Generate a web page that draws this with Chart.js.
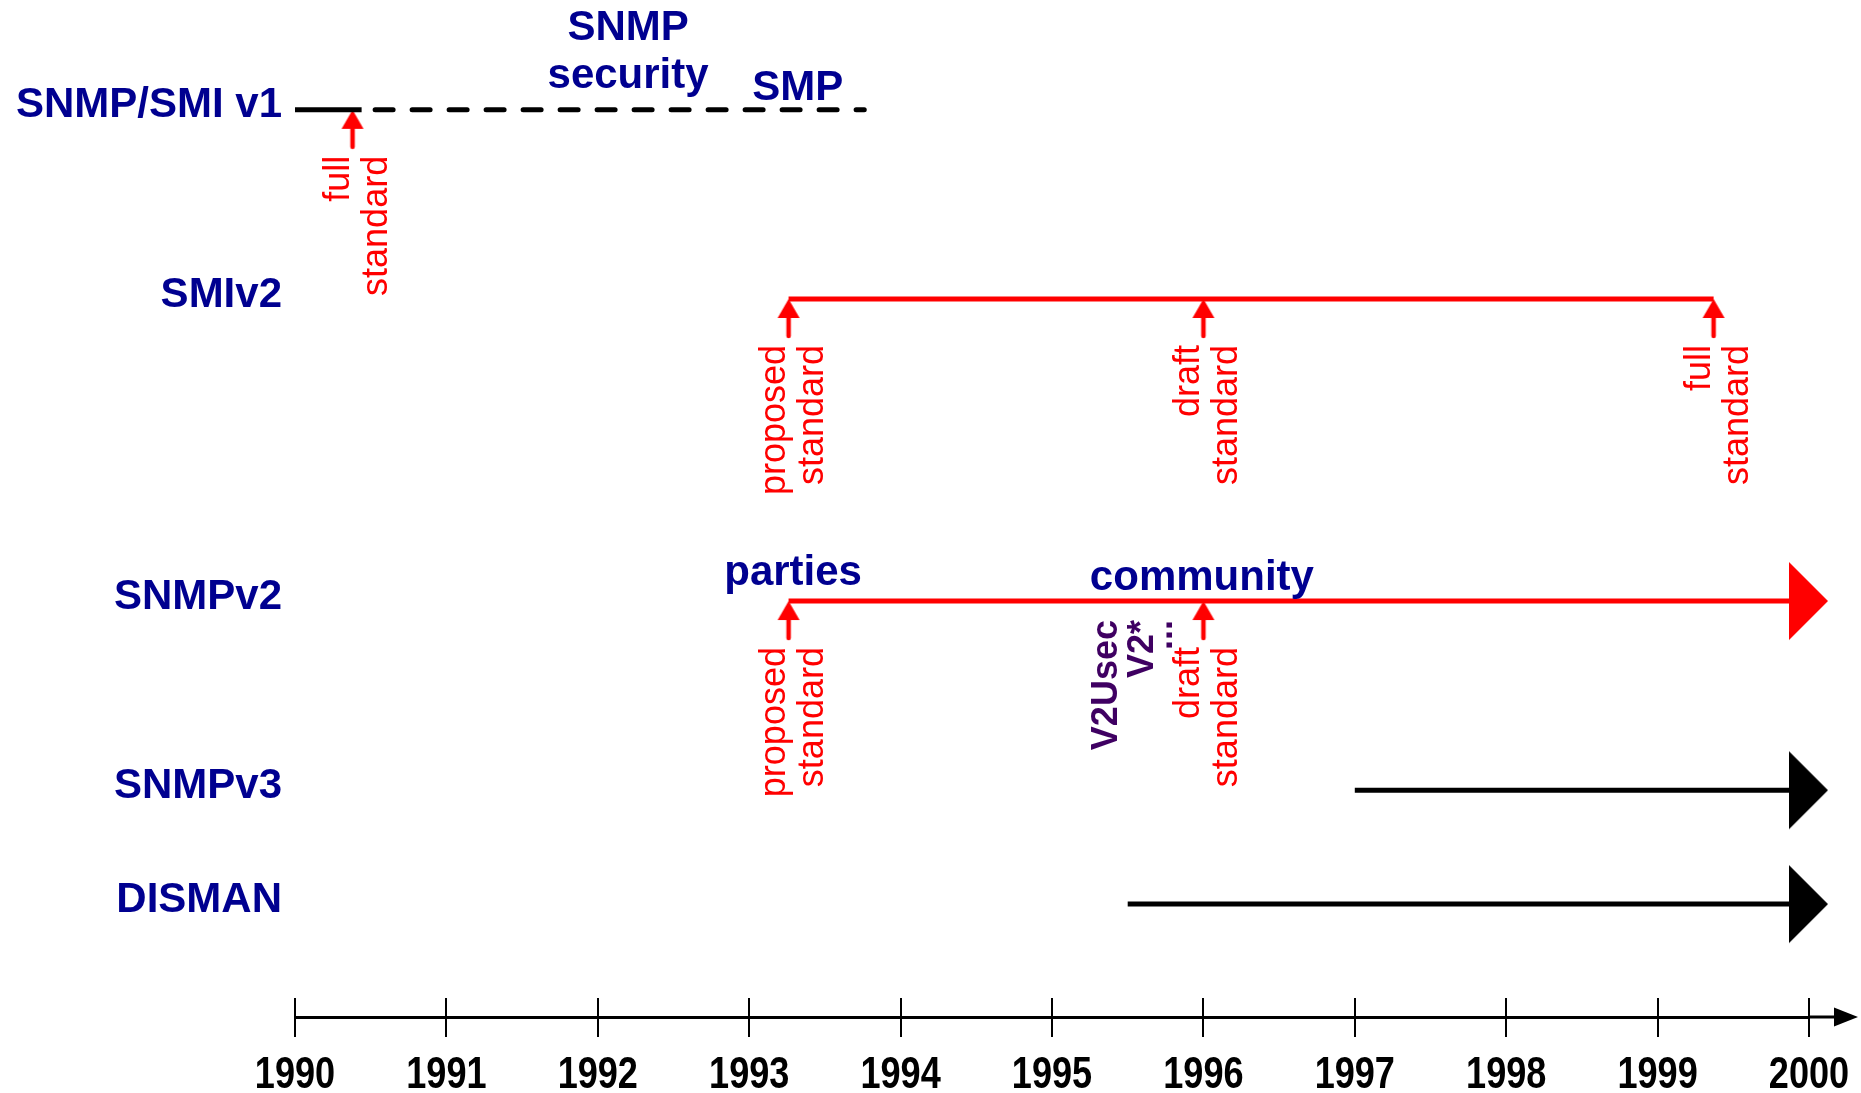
<!DOCTYPE html>
<html>
<head>
<meta charset="utf-8">
<script src="https://cdn.jsdelivr.net/npm/chart.js@4.4.1/dist/chart.umd.min.js"></script>
<style>
  html, body { margin: 0; padding: 0; background: #fff; }
</style>
</head>
<body>
<canvas id="timeline" width="1861" height="1093"></canvas>
<script>
// x axis tick labels
const years = [1990, 1991, 1992, 1993, 1994, 1995, 1996, 1997, 1998, 1999, 2000];

// one lane per track
const rowNames = ['SNMP/SMI v1', 'SMIv2', 'SNMPv2', 'SNMPv3', 'DISMAN'];
const rowLevels = [8.92, 7.06, 4.09, 2.23, 1.11];

// [start, end] of each track, in years
const smiV1Solid = [1990, 1990.44];
const smiV1Dashed = [1990.44, 1993.76];
const smiV2Span = [1993.26, 1999.37];
const snmpV2Span = [1993.26, 2000];
const snmpV3Span = [1997, 2000];
const dismanSpan = [1995.5, 2000];

// standards milestones
const milestoneYears = [1990.38, 1993.26, 1996.0, 1999.37, 1993.26, 1996.0];
const milestoneRows = [0, 1, 1, 1, 2, 2];
const milestoneLabels = [
  ['full', 'standard'], ['proposed', 'standard'], ['draft', 'standard'],
  ['full', 'standard'], ['proposed', 'standard'], ['draft', 'standard']
];

// bold notes above the tracks
const noteTexts = [['SNMP', 'security'], ['SMP'], ['parties'], ['community']];
const noteYears = [1992.2, 1993.32, 1993.29, 1995.99];
const noteRows = [0, 0, 2, 2];

// purple notes hanging under SNMPv2
const sideNotes = ['V2Usec', 'V2*', '...'];
const sideNoteYears = [1995.43, 1995.67, 1995.79];

const RED = '#ff0000';
const NAVY = '#000090';
const PURPLE = '#3f0062';
const SANS = '"Liberation Sans", Arial, Helvetica, sans-serif';

function makeHead(color) {
  const c = document.createElement('canvas');
  c.width = 40; c.height = 80;
  const g = c.getContext('2d');
  g.fillStyle = color;
  g.beginPath();
  g.moveTo(0, 1); g.lineTo(39, 40); g.lineTo(0, 79);
  g.closePath(); g.fill();
  return c;
}

function makeUpArrow(color) {
  const c = document.createElement('canvas');
  c.width = 24; c.height = 80;
  const g = c.getContext('2d');
  g.fillStyle = color; g.strokeStyle = color;
  g.beginPath();
  g.moveTo(12, 40); g.lineTo(23, 59); g.lineTo(1, 59);
  g.closePath(); g.fill();
  g.lineWidth = 4.5; g.lineCap = 'round';
  g.beginPath(); g.moveTo(12, 56); g.lineTo(12, 77); g.stroke();
  return c;
}

const redHead = makeHead(RED);
const blackHead = makeHead('#000');
const upArrow = makeUpArrow(RED);

function span(range, row) {
  return range.map(v => ({ x: v, y: rowLevels[row] }));
}

function track(data, color, extra) {
  return Object.assign({
    data: data,
    borderColor: color,
    backgroundColor: color,
    borderWidth: 5,
    pointRadius: 0,
    tension: 0,
    fill: false,
    clip: false
  }, extra || {});
}

const overlay = {
  id: 'overlay',
  afterDatasetsDraw(chart) {
    const { ctx, chartArea, scales: { x, y } } = chart;
    const axisY = chartArea.bottom;

    ctx.save();
    // upper half of the year ticks + arrow at the end of the axis
    ctx.strokeStyle = '#000';
    ctx.fillStyle = '#000';
    ctx.lineWidth = 2;
    years.forEach(v => {
      const px = Math.round(x.getPixelForValue(v));
      ctx.beginPath(); ctx.moveTo(px, axisY - 19); ctx.lineTo(px, axisY); ctx.stroke();
    });
    ctx.lineWidth = 3;
    ctx.beginPath(); ctx.moveTo(x.right, axisY); ctx.lineTo(x.right + 28, axisY); ctx.stroke();
    ctx.beginPath();
    ctx.moveTo(x.right + 25, axisY - 9.5);
    ctx.lineTo(x.right + 49, axisY);
    ctx.lineTo(x.right + 25, axisY + 9.5);
    ctx.closePath(); ctx.fill();

    // year labels, narrow bold face
    ctx.font = 'bold 44px ' + SANS;
    ctx.textAlign = 'center';
    ctx.textBaseline = 'alphabetic';
    x.ticks.forEach(t => {
      ctx.save();
      ctx.translate(x.getPixelForValue(t.value), axisY + 71);
      ctx.scale(0.82, 1);
      ctx.fillText(String(t.value), 0, 0);
      ctx.restore();
    });

    const drawUp = (text, bx, top) => {
      ctx.save();
      ctx.translate(bx, top);
      ctx.rotate(-Math.PI / 2);
      ctx.textAlign = 'right';
      ctx.textBaseline = 'alphabetic';
      ctx.fillText(text, 0, 0);
      ctx.restore();
    };

    // milestone captions
    ctx.font = '36px ' + SANS;
    ctx.fillStyle = RED;
    milestoneYears.forEach((yr, i) => {
      const px = x.getPixelForValue(yr);
      const top = y.getPixelForValue(rowLevels[milestoneRows[i]]) + 46;
      drawUp(milestoneLabels[i][0], px - 4, top);
      drawUp(milestoneLabels[i][1], px + 34, top);
    });

    // V2Usec / V2* notes
    ctx.font = 'bold 36px ' + SANS;
    ctx.fillStyle = PURPLE;
    sideNotes.forEach((t, i) => {
      drawUp(t, x.getPixelForValue(sideNoteYears[i]), y.getPixelForValue(rowLevels[2]) + 19);
    });

    // bold notes
    const lift = [22, 10, 16, 11];
    ctx.font = 'bold 42px ' + SANS;
    ctx.fillStyle = NAVY;
    ctx.textAlign = 'center';
    noteTexts.forEach((lines, i) => {
      const px = x.getPixelForValue(noteYears[i]);
      const base = y.getPixelForValue(rowLevels[noteRows[i]]) - lift[i];
      lines.forEach((t, k) => {
        ctx.fillText(t, px, base - (lines.length - 1 - k) * 48);
      });
    });
    ctx.restore();
  }
};

new Chart(document.getElementById('timeline'), {
  type: 'line',
  data: {
    datasets: [
      track(span(smiV1Solid, 0), '#000'),
      track(span(smiV1Dashed, 0), '#000', { borderDash: [18, 19], borderDashOffset: 23.5, borderCapStyle: 'round' }),
      track(span(smiV2Span, 1), RED),
      track(span(snmpV2Span, 2), RED, { pointRadius: [0, 5], pointStyle: redHead }),
      track(span(snmpV3Span, 3), '#000', { pointRadius: [0, 5], pointStyle: blackHead }),
      track(span(dismanSpan, 4), '#000', { pointRadius: [0, 5], pointStyle: blackHead }),
      {
        data: milestoneYears.map((v, i) => ({ x: v, y: rowLevels[milestoneRows[i]] })),
        showLine: false,
        pointStyle: upArrow,
        pointRadius: 5,
        clip: false
      }
    ]
  },
  options: {
    responsive: false,
    devicePixelRatio: 1,
    animation: false,
    events: [],
    layout: { autoPadding: false, padding: { left: 0, right: 52, top: 0, bottom: 0 } },
    plugins: { legend: { display: false }, tooltip: { enabled: false } },
    scales: {
      x: {
        type: 'linear',
        min: 1990,
        max: 2000,
        afterBuildTicks: s => { s.ticks = years.map(v => ({ value: v })); },
        afterFit: s => { s.height = 76; s.paddingLeft = 0; s.paddingRight = 0; },
        ticks: { display: false, autoSkip: false },
        grid: { drawOnChartArea: false, tickLength: 20, color: '#000', lineWidth: 2 },
        border: { color: '#000', width: 3 }
      },
      y: {
        type: 'linear',
        min: 0,
        max: 10,
        afterBuildTicks: s => { s.ticks = rowLevels.map(v => ({ value: v })); },
        afterFit: s => { s.width = 295; s.paddingTop = 0; s.paddingBottom = 0; },
        ticks: {
          callback: (v, i) => rowNames[i],
          autoSkip: false,
          padding: 13,
          labelOffset: -4,
          color: NAVY,
          font: { family: SANS, weight: 'bold', size: 42 }
        },
        grid: { display: false, drawTicks: false },
        border: { display: false }
      }
    }
  },
  plugins: [overlay]
});
</script>
</body>
</html>
